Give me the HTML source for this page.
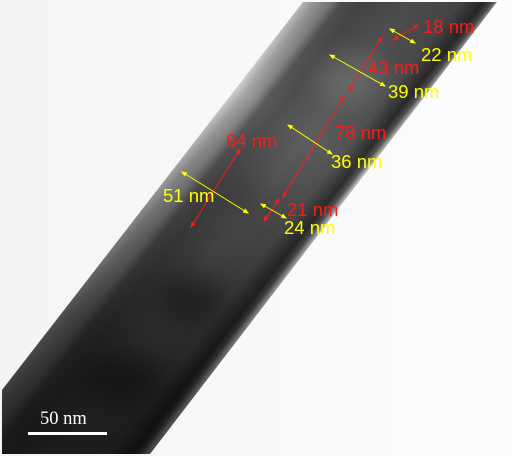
<!DOCTYPE html>
<html><head><meta charset="utf-8"><style>
html,body{margin:0;padding:0;background:#fff;}
svg{display:block;}
text{font-family:"Liberation Sans",sans-serif;font-size:18.5px;}
</style></head><body>
<svg width="524" height="456" viewBox="0 0 524 456">
<defs>
<linearGradient id="bg" x1="0" y1="0" x2="1" y2="0">
<stop offset="0" stop-color="#f4f4f4"/><stop offset="1" stop-color="#fdfdfd"/>
</linearGradient>
<linearGradient id="wire" gradientUnits="userSpaceOnUse" x1="150" y1="199" x2="272" y2="294">
<stop offset="0" stop-color="#d0d0d0"/>
<stop offset="0.06" stop-color="#a8a8a8"/>
<stop offset="0.14" stop-color="#8a8a8a"/>
<stop offset="0.2" stop-color="#5a5a5a"/>
<stop offset="0.3" stop-color="#505050"/>
<stop offset="0.55" stop-color="#5e5e5e"/>
<stop offset="0.8" stop-color="#555"/>
<stop offset="0.92" stop-color="#2e2e2e"/>
<stop offset="0.96" stop-color="#555"/>
<stop offset="1" stop-color="#d0d0d0"/>
</linearGradient>
<linearGradient id="along" gradientUnits="userSpaceOnUse" x1="400" y1="0" x2="80" y2="456">
<stop offset="0" stop-color="#000" stop-opacity="0.2"/>
<stop offset="0.3" stop-color="#000" stop-opacity="0"/>
<stop offset="0.55" stop-color="#000" stop-opacity="0.3"/>
<stop offset="0.8" stop-color="#000" stop-opacity="0.6"/>
<stop offset="1" stop-color="#000" stop-opacity="0.7"/>
</linearGradient>
<filter id="blur"><feGaussianBlur stdDeviation="12"/></filter>
<marker id="ar" viewBox="0 0 10 10" refX="8" refY="5" markerWidth="6" markerHeight="6" orient="auto-start-reverse"><path d="M0,1 L10,5 L0,9 z" fill="#ff1a1a"/></marker>
<marker id="ay" viewBox="0 0 10 10" refX="8" refY="5" markerWidth="6" markerHeight="6" orient="auto-start-reverse"><path d="M0,1 L10,5 L0,9 z" fill="#ffff00"/></marker>
<clipPath id="wc"><polygon points="303,2 497,2 150,454 2,454 2,390"/></clipPath>
</defs>
<rect width="524" height="456" fill="url(#bg)"/>
<polygon points="303,2 497,2 150,454 2,454 2,390" fill="url(#wire)"/>
<polygon points="303,2 497,2 150,454 2,454 2,390" fill="url(#along)"/>
<g filter="url(#blur)" opacity="0.35" clip-path="url(#wc)">
<ellipse cx="350" cy="80" rx="35" ry="25" fill="#888"/>
<ellipse cx="240" cy="200" rx="30" ry="20" fill="#333"/>
<ellipse cx="190" cy="300" rx="35" ry="25" fill="#000"/>
<ellipse cx="120" cy="380" rx="40" ry="25" fill="#000"/>
</g>
<g stroke="#ff1a1a" stroke-width="1">
<line x1="393" y1="40" x2="418" y2="25" marker-start="url(#ar)" marker-end="url(#ar)"/>
<line x1="382" y1="37" x2="349" y2="91" marker-start="url(#ar)" marker-end="url(#ar)"/>
<line x1="344" y1="96" x2="283" y2="197" marker-start="url(#ar)" marker-end="url(#ar)"/>
<line x1="240" y1="149" x2="191" y2="227" marker-start="url(#ar)" marker-end="url(#ar)"/>
<line x1="279" y1="199" x2="264" y2="221" marker-start="url(#ar)" marker-end="url(#ar)"/>
</g>
<g stroke="#ffff00" stroke-width="1">
<line x1="390" y1="29" x2="415" y2="43" marker-start="url(#ay)" marker-end="url(#ay)"/>
<line x1="330" y1="55" x2="385" y2="86" marker-start="url(#ay)" marker-end="url(#ay)"/>
<line x1="288" y1="125" x2="332" y2="154" marker-start="url(#ay)" marker-end="url(#ay)"/>
<line x1="182" y1="172" x2="248" y2="213" marker-start="url(#ay)" marker-end="url(#ay)"/>
<line x1="261" y1="204" x2="286" y2="218" marker-start="url(#ay)" marker-end="url(#ay)"/>
</g>
<g fill="#ff1a1a">
<text x="423" y="33">18 nm</text>
<text x="368" y="74">43 nm</text>
<text x="335" y="139">78 nm</text>
<text x="226" y="147">64 nm</text>
<text x="287" y="216">21 nm</text>
</g>
<g fill="#ffff00">
<text x="421" y="61">22 nm</text>
<text x="388" y="98">39 nm</text>
<text x="331" y="168">36 nm</text>
<text x="163" y="202">51 nm</text>
<text x="284" y="234">24 nm</text>
</g>
<line x1="28" y1="433.5" x2="107" y2="433.5" stroke="#fff" stroke-width="3"/>
<text x="40" y="424" fill="#fff" style="font-family:'Liberation Serif',serif;font-size:18.5px">50 nm</text>
</svg>
</body></html>
